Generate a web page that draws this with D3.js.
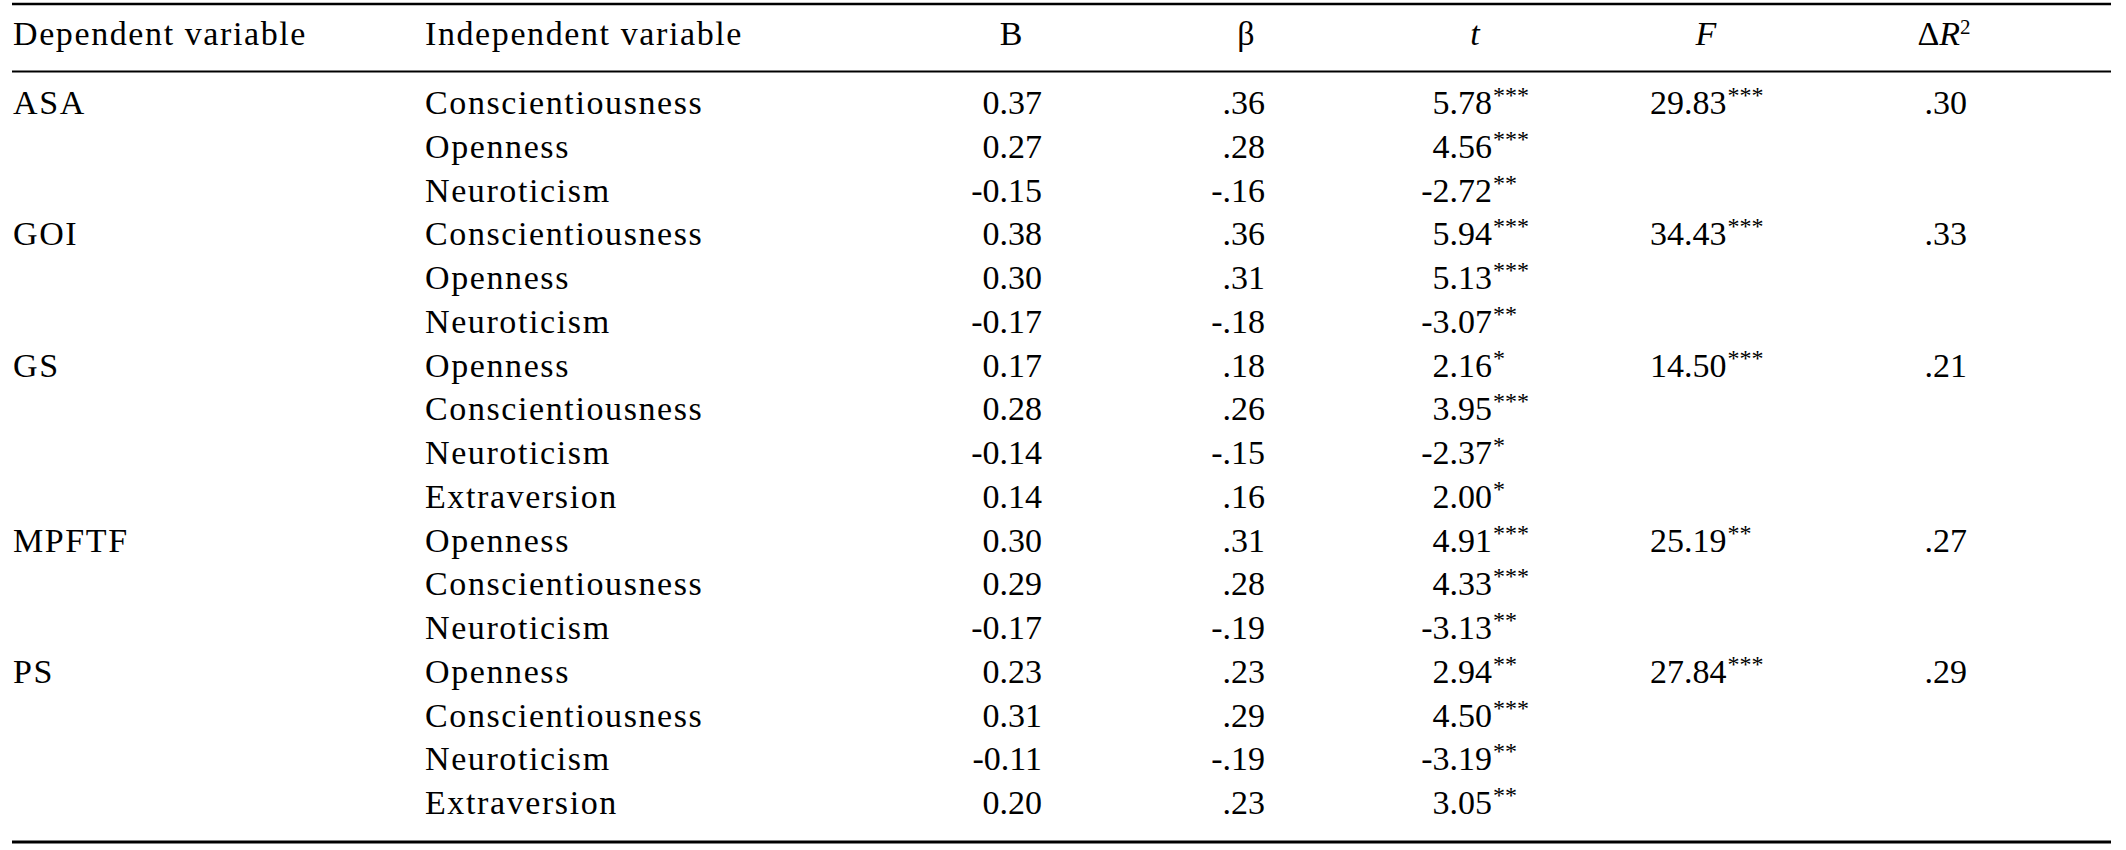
<!DOCTYPE html>
<html>
<head>
<meta charset="utf-8">
<script src="https://cdn.jsdelivr.net/npm/d3@7"></script>
<style>
  html, body { margin: 0; padding: 0; background: #fff; }
  svg { display: block; }
  text { font-family: "Liberation Serif", "Times New Roman", serif; fill: #000; }
</style>
</head>
<body>
<svg id="chart" width="2126" height="850"></svg>
<script>
// ---- Data ----
const headers = ["Dependent variable", "Independent variable", "B", "β", "t", "F", "ΔR2"];
const dependentVars = ["ASA", "", "", "GOI", "", "", "GS", "", "", "", "MPFTF", "", "", "PS", "", "", ""];
const independentVars = ["Conscientiousness", "Openness", "Neuroticism",
  "Conscientiousness", "Openness", "Neuroticism",
  "Openness", "Conscientiousness", "Neuroticism", "Extraversion",
  "Openness", "Conscientiousness", "Neuroticism",
  "Openness", "Conscientiousness", "Neuroticism", "Extraversion"];
const bValues = [0.37, 0.27, -0.15, 0.38, 0.30, -0.17, 0.17, 0.28, -0.14, 0.14, 0.30, 0.29, -0.17, 0.23, 0.31, -0.11, 0.20];
const betaValues = [0.36, 0.28, -0.16, 0.36, 0.31, -0.18, 0.18, 0.26, -0.15, 0.16, 0.31, 0.28, -0.19, 0.23, 0.29, -0.19, 0.23];
const tValues = [5.78, 4.56, -2.72, 5.94, 5.13, -3.07, 2.16, 3.95, -2.37, 2.00, 4.91, 4.33, -3.13, 2.94, 4.50, -3.19, 3.05];
const tStars = [3, 3, 2, 3, 3, 2, 1, 3, 1, 1, 3, 3, 2, 2, 3, 2, 2];
const fValues = [29.83, null, null, 34.43, null, null, 14.50, null, null, null, 25.19, null, null, 27.84, null, null, null];
const fStars = [3, 0, 0, 3, 0, 0, 3, 0, 0, 0, 2, 0, 0, 3, 0, 0, 0];
const dR2Values = [0.30, null, null, 0.33, null, null, 0.21, null, null, null, 0.27, null, null, 0.29, null, null, null];

// ---- Layout ----
const svg = d3.select("#chart");
const FS = 34, SUP = 24, LS = 1.6;
const nRows = independentVars.length;
const y = d3.scaleLinear().domain([0, nRows - 1]).range([114, 814]);
const headerY = 45;
const col = {
  dep: 13, ind: 425, bRight: 1042, bHead: 1011, betaRight: 1265, betaHead: 1246,
  tRight: 1492, tHead: 1475, fLeft: 1650, fHead: 1706, r2Right: 1967, r2Head: 1944
};
const left = 12, right = 2111;

const fmt2 = v => (v < 0 ? "-" : "") + Math.abs(v).toFixed(2);
const fmtNoZero = v => (v < 0 ? "-" : "") + Math.abs(v).toFixed(2).replace(/^0/, "");
const stars = n => "*".repeat(n);

// Rules
const rule = (yy, w) => svg.append("line").attr("x1", left).attr("x2", right)
  .attr("y1", yy).attr("y2", yy).attr("stroke", "#000").attr("stroke-width", w);
rule(4, 2.4);
rule(71.5, 1.8);
rule(842, 3.2);

// Headers
const h = svg.append("g").attr("font-size", FS);
h.append("text").attr("x", col.dep).attr("y", headerY).attr("letter-spacing", LS).text(headers[0]);
h.append("text").attr("x", col.ind).attr("y", headerY).attr("letter-spacing", LS).text(headers[1]);
h.append("text").attr("x", col.bHead).attr("y", headerY).attr("text-anchor", "middle").text(headers[2]);
h.append("text").attr("x", col.betaHead).attr("y", headerY).attr("text-anchor", "middle").text(headers[3]);
h.append("text").attr("x", col.tHead).attr("y", headerY).attr("text-anchor", "middle").attr("font-style", "italic").text(headers[4]);
h.append("text").attr("x", col.fHead).attr("y", headerY).attr("text-anchor", "middle").attr("font-style", "italic").text(headers[5]);
const r2 = h.append("text").attr("x", col.r2Head).attr("y", headerY).attr("text-anchor", "middle");
r2.append("tspan").text(headers[6][0]);
r2.append("tspan").attr("font-style", "italic").text(headers[6][1]);
r2.append("tspan").attr("font-size", 21).attr("dy", -11).text(headers[6][2]);

// Body rows
const rows = svg.append("g").attr("font-size", FS)
  .selectAll("g").data(d3.range(nRows)).join("g")
  .attr("transform", i => `translate(0,${y(i)})`);

rows.append("text").attr("x", col.dep).attr("letter-spacing", LS).text(i => dependentVars[i]);
rows.append("text").attr("x", col.ind).attr("letter-spacing", LS).text(i => independentVars[i]);
rows.append("text").attr("x", col.bRight).attr("text-anchor", "end").text(i => fmt2(bValues[i]));
rows.append("text").attr("x", col.betaRight).attr("text-anchor", "end").text(i => fmtNoZero(betaValues[i]));
rows.append("text").attr("x", col.tRight).attr("text-anchor", "end").text(i => fmt2(tValues[i]));
rows.append("text").attr("x", col.tRight + 1).attr("y", -11).attr("font-size", SUP).text(i => stars(tStars[i]));

const fRows = rows.filter(i => fValues[i] !== null);
const fText = fRows.append("text").attr("x", col.fLeft);
fText.append("tspan").text(i => fmt2(fValues[i]));
fText.append("tspan").attr("font-size", SUP).attr("dy", -11).attr("dx", 1).text(i => stars(fStars[i]));
fRows.append("text").attr("x", col.r2Right).attr("text-anchor", "end").text(i => fmtNoZero(dR2Values[i]));
</script>
</body>
</html>
